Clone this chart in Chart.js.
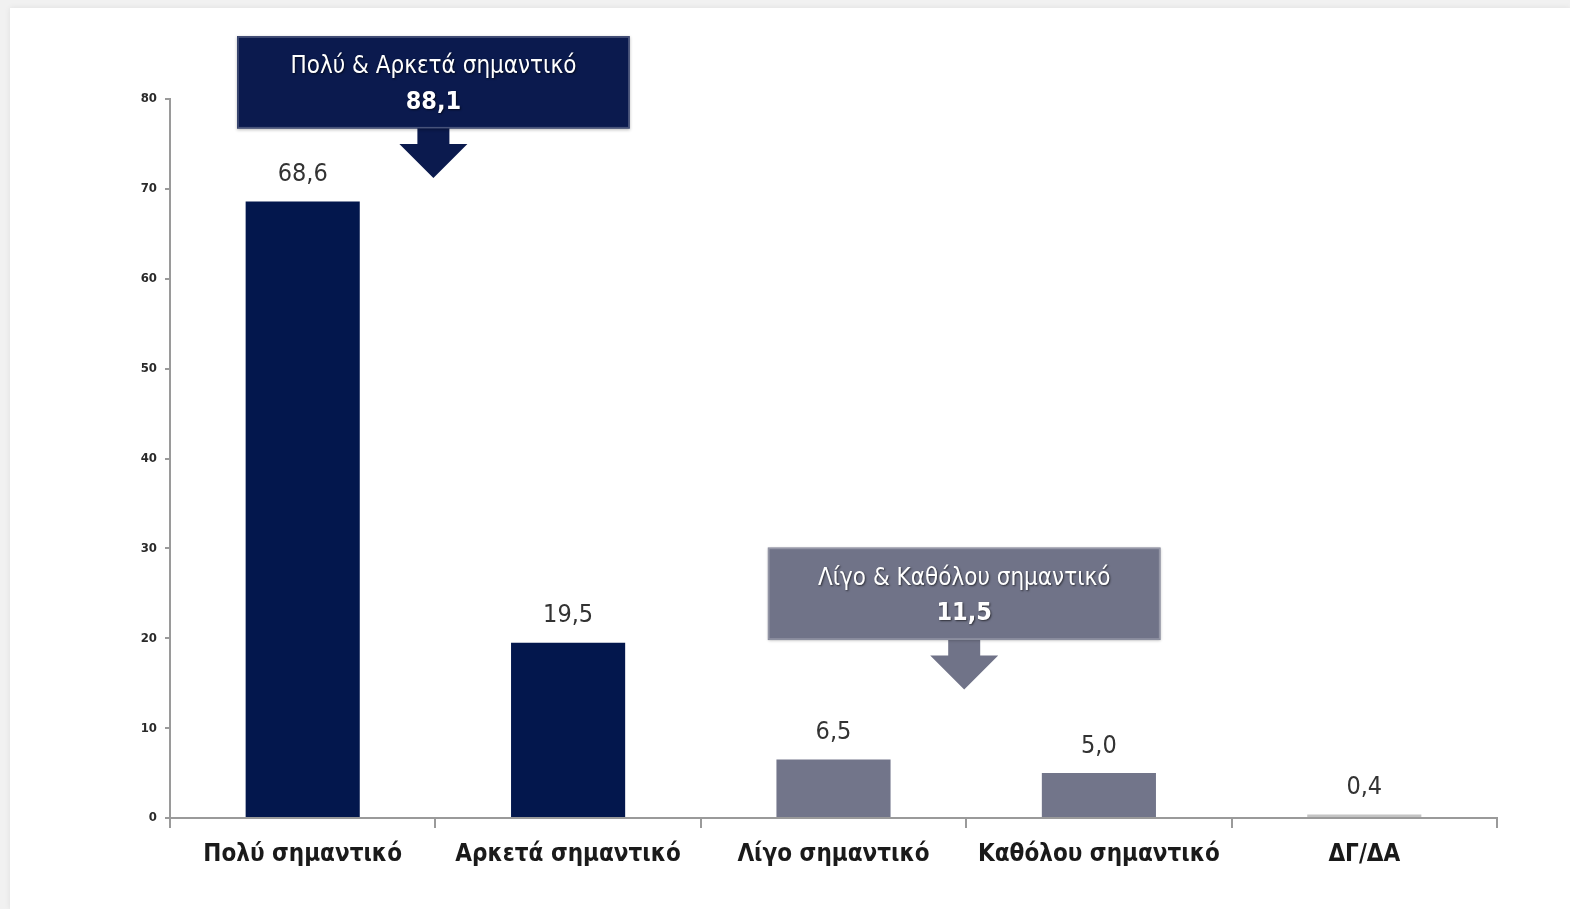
<!DOCTYPE html>
<html>
<head>
  <meta charset="utf-8" />
  <title>Σημαντικότητα</title>
  <script src="https://cdn.jsdelivr.net/npm/chart.js"></script>
  <style>
    html, body { margin: 0; padding: 0; background: #f1f1f1; }
    #wrap { position: relative; width: 1570px; height: 909px; }
  </style>
</head>
<body>
  <div id="wrap"><canvas id="chart" width="1570" height="909"></canvas></div>
  <script>
    // chart data
    const categories = ['Πολύ σημαντικό', 'Αρκετά σημαντικό', 'Λίγο σημαντικό', 'Καθόλου σημαντικό', 'ΔΓ/ΔΑ'];
    const values = [68.6, 19.5, 6.5, 5.0, 0.4];
    const barColors = ['#03174d', '#03174d', '#72758a', '#72758a', '#c4c4c4'];
    const yTicks = [0, 10, 20, 30, 40, 50, 60, 70, 80];
    // grouped callouts
    const groupLabels = ['Πολύ & Αρκετά σημαντικό', 'Λίγο & Καθόλου σημαντικό'];
    const groupTotals = [88.1, 11.5];
    const groupColors = ['#0b1a4e', '#707388'];

    const FONT = "'Liberation Sans Narrow', 'Arial Narrow', 'DejaVu Sans Condensed', sans-serif";
    const fmt = v => v.toFixed(1).replace('.', ',');

    // callout placement: between categories, box top/bottom and arrow tip in axis units
    const callouts = [
      { after: 0, top: 87.0, bottom: 76.7, tip: 71.2 },
      { after: 2, top: 30.1, bottom: 19.8, tip: 14.3 }
    ];

    const pageBg = {
      id: 'pageBg',
      beforeDraw(chart) {
        const c = chart.ctx;
        c.save();
        c.fillStyle = '#f1f1f1';
        c.fillRect(0, 0, chart.width, chart.height);
        c.shadowColor = 'rgba(0,0,0,0.08)';
        c.shadowBlur = 6;
        c.fillStyle = '#ffffff';
        c.fillRect(10, 8, chart.width - 10, chart.height - 8);
        c.restore();
      }
    };

    const valueLabels = {
      id: 'valueLabels',
      afterDatasetsDraw(chart) {
        const c = chart.ctx;
        const meta = chart.getDatasetMeta(0);
        c.save();
        c.font = '25px ' + FONT;
        c.fillStyle = '#333333';
        c.textAlign = 'center';
        c.textBaseline = 'middle';
        meta.data.forEach((bar, i) => {
          c.fillText(fmt(values[i]), bar.x, bar.y - 27);
        });
        c.restore();
      }
    };

    const calloutPlugin = {
      id: 'callouts',
      afterDatasetsDraw(chart) {
        const c = chart.ctx;
        const xs = chart.scales.x, ys = chart.scales.y;
        const step = xs.getPixelForValue(1) - xs.getPixelForValue(0);
        callouts.forEach((co, i) => {
          const cx = (xs.getPixelForValue(co.after) + xs.getPixelForValue(co.after + 1)) / 2 - 2;
          const w = step * 1.48;
          const top = ys.getPixelForValue(co.top);
          const bot = ys.getPixelForValue(co.bottom);
          const tip = ys.getPixelForValue(co.tip);
          const headTop = tip - 34;
          c.save();
          // arrow
          c.fillStyle = groupColors[i];
          c.beginPath();
          c.moveTo(cx - 16, bot - 1);
          c.lineTo(cx + 16, bot - 1);
          c.lineTo(cx + 16, headTop);
          c.lineTo(cx + 34, headTop);
          c.lineTo(cx, tip);
          c.lineTo(cx - 34, headTop);
          c.lineTo(cx - 16, headTop);
          c.closePath();
          c.fill();
          // box
          c.shadowColor = 'rgba(0,0,0,0.25)';
          c.shadowBlur = 3;
          c.shadowOffsetY = 1;
          c.fillRect(cx - w / 2, top, w, bot - top);
          c.shadowColor = 'transparent';
          c.strokeStyle = 'rgba(255,255,255,0.25)';
          c.lineWidth = 1.5;
          c.strokeRect(cx - w / 2 + 1, top + 1, w - 2, bot - top - 2);
          // text
          c.fillStyle = '#ffffff';
          c.textAlign = 'center';
          c.textBaseline = 'middle';
          c.shadowColor = 'rgba(0,0,0,0.6)';
          c.shadowBlur = 2;
          c.shadowOffsetX = 1;
          c.shadowOffsetY = 1;
          c.font = '24px ' + FONT;
          c.fillText(groupLabels[i], cx, top + 31);
          c.font = 'bold 25px ' + FONT;
          c.fillText(fmt(groupTotals[i]), cx, top + 66);
          c.restore();
        });
      }
    };

    new Chart(document.getElementById('chart'), {
      type: 'bar',
      data: {
        labels: categories,
        datasets: [{
          data: values,
          backgroundColor: barColors,
          borderWidth: 0,
          categoryPercentage: 1,
          barPercentage: 0.43
        }]
      },
      options: {
        responsive: false,
        animation: false,
        layout: { padding: { top: 99, right: 73, left: 0, bottom: 0 } },
        plugins: { legend: { display: false }, tooltip: { enabled: false } },
        scales: {
          x: {
            grid: { offset: true, drawOnChartArea: false, drawTicks: true, tickLength: 10, color: '#9a9a9a', lineWidth: 2 },
            border: { color: '#9a9a9a', width: 2 },
            ticks: {
              color: '#1a1a1a',
              font: { family: FONT, size: 24, weight: 'bold' },
              padding: 12,
              autoSkip: false,
              maxRotation: 0
            },
            afterFit(s) { s.height = 91; }
          },
          y: {
            min: 0,
            max: 80,
            afterBuildTicks(s) { s.ticks = yTicks.map(v => ({ value: v })); },
            grid: { drawOnChartArea: false, drawTicks: true, tickLength: 5, color: '#9a9a9a', lineWidth: 2 },
            border: { color: '#9a9a9a', width: 2 },
            ticks: {
              color: '#2a2a2a',
              font: { family: FONT, size: 13, weight: 'bold' },
              padding: 8
            },
            afterFit(s) { s.width = 170; }
          }
        }
      },
      plugins: [pageBg, valueLabels, calloutPlugin]
    });
  </script>
</body>
</html>
